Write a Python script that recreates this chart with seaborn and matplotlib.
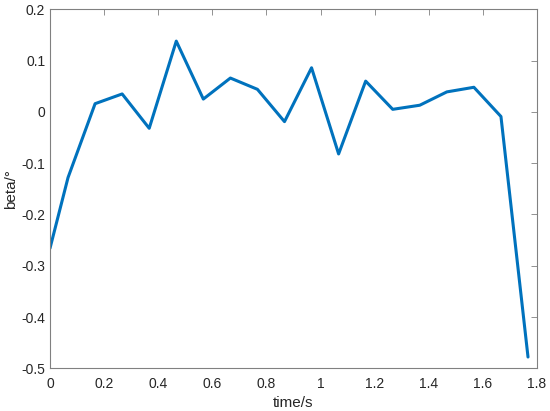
import numpy as np
import pandas as pd
import matplotlib
matplotlib.use('Agg')
import matplotlib.pyplot as plt
from matplotlib.ticker import FuncFormatter
import seaborn as sns

# values
time_s = [0.0, 0.0667, 0.1667, 0.2667, 0.3667, 0.4667, 0.5667, 0.6667, 0.7667,
          0.8667, 0.9667, 1.0667, 1.1667, 1.2667, 1.3667, 1.4667, 1.5667,
          1.6667, 1.7667]
beta = [-0.266, -0.128, 0.016, 0.035, -0.032, 0.138, 0.025, 0.066, 0.044,
        -0.019, 0.086, -0.082, 0.060, 0.005, 0.013, 0.039, 0.048,
        -0.009, -0.478]
x_ticks = [0, 0.2, 0.4, 0.6, 0.8, 1, 1.2, 1.4, 1.6, 1.8]
y_ticks = [-0.5, -0.4, -0.3, -0.2, -0.1, 0, 0.1, 0.2]

df = pd.DataFrame({'time/s': time_s, 'beta/°': beta})

sns.set_style('white')
plt.rcParams['font.family'] = ['Liberation Sans', 'DejaVu Sans']
plt.rcParams['axes.unicode_minus'] = False

fig = plt.figure(figsize=(5.5, 4.11), dpi=100)
ax = fig.add_axes([0.0909, 0.1039, 0.8855, 0.8734])

sns.lineplot(data=df, x='time/s', y='beta/°', ax=ax, color='#0072BD', linewidth=2.2)

ax.set_xlim(0, 1.8)
ax.set_ylim(-0.5, 0.2)
ax.set_xticks(x_ticks)
ax.set_yticks(y_ticks)
ax.xaxis.set_major_formatter(FuncFormatter(lambda v, p: '%g' % round(v, 2)))
ax.yaxis.set_major_formatter(FuncFormatter(lambda v, p: '%g' % round(v, 2)))

axis_col = '#262626'
for s in ax.spines.values():
    s.set_color('#808080')
    s.set_linewidth(0.8)
ax.tick_params(direction='in', length=4, width=0.6, color='#808080',
               labelsize=10, labelcolor=axis_col, top=True, right=True,
               labeltop=False, labelright=False)
ax.tick_params(axis='x', pad=6)
ax.set_xlabel('time/s', fontsize=11, color=axis_col, labelpad=4)
ax.set_ylabel('beta/°', fontsize=11, color=axis_col, labelpad=2)

fig.savefig('out.png', dpi=100)
